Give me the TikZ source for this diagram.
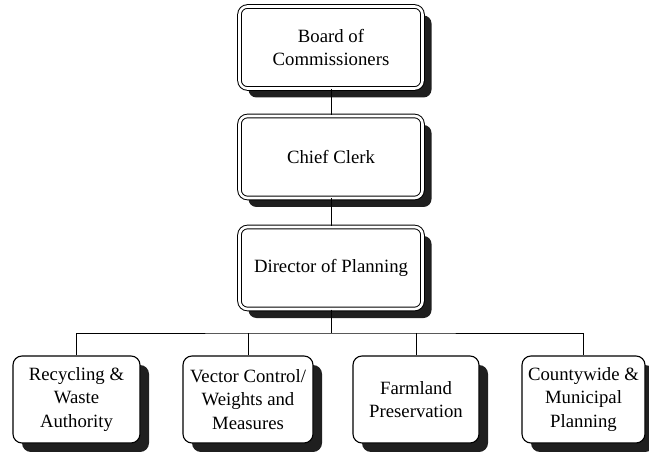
\documentclass[tikz,border=0pt]{standalone}
\usepackage{fontspec}
\setmainfont{Liberation Serif}
\usetikzlibrary{shadows}
\begin{document}
\begin{tikzpicture}[x=1bp,y=-1bp,
  boxfont/.style={font=\fontsize{18.8}{23.5}\selectfont},
  boxshadow/.style={drop shadow={shadow xshift=9bp,shadow yshift=-9bp,fill=black!88,opacity=1}},
  officebox/.style={boxfont,boxshadow,draw=black,fill=white,rounded corners=8bp,
    double=white,double distance=2.6bp,line width=1bp,
    minimum width=183bp,minimum height=82bp,align=center,inner sep=0pt},
  unitbox/.style={boxfont,boxshadow,draw=black,fill=white,rounded corners=9bp,
    line width=1.1bp,minimum height=87bp,align=center,inner sep=0pt},
  link/.style={draw=black,line width=0.9bp}]
\useasboundingbox (0,0) rectangle (649,452);

% chain of command
\node[officebox] (board) at (331,47.5) {Board of\\Commissioners};
\node[officebox] (clerk) at (331,157) {Chief Clerk};
\node[officebox] (dir) at (331,268) {Director of Planning};

% divisions
\node[unitbox,minimum width=127bp] (rec) at (76.5,399.5) {Recycling \&\\Waste\\Authority};
\node[unitbox,minimum width=130bp] (vec) at (248,399.5) {Vector Control/\\Weights and\\Measures};
\node[unitbox,minimum width=126bp] (farm) at (416,399.5) {Farmland\\Preservation};
\node[unitbox,minimum width=123bp] (cty) at (583.5,399.5) {Countywide \&\\Municipal\\Planning};

\coordinate (bus) at (331,333);

\begin{scope}[on background layer/.try]
\end{scope}
\path[link] (board.south) -- (clerk.north);
\path[link] (clerk.south) -- (dir.north);
\path[link] (dir.south) -- (bus);
\path[link] (rec.north) |- (bus) -| (cty.north);
\path[link] (vec.north) -- (vec.north |- bus);
\path[link] (farm.north) -- (farm.north |- bus);
\end{tikzpicture}
\end{document}
